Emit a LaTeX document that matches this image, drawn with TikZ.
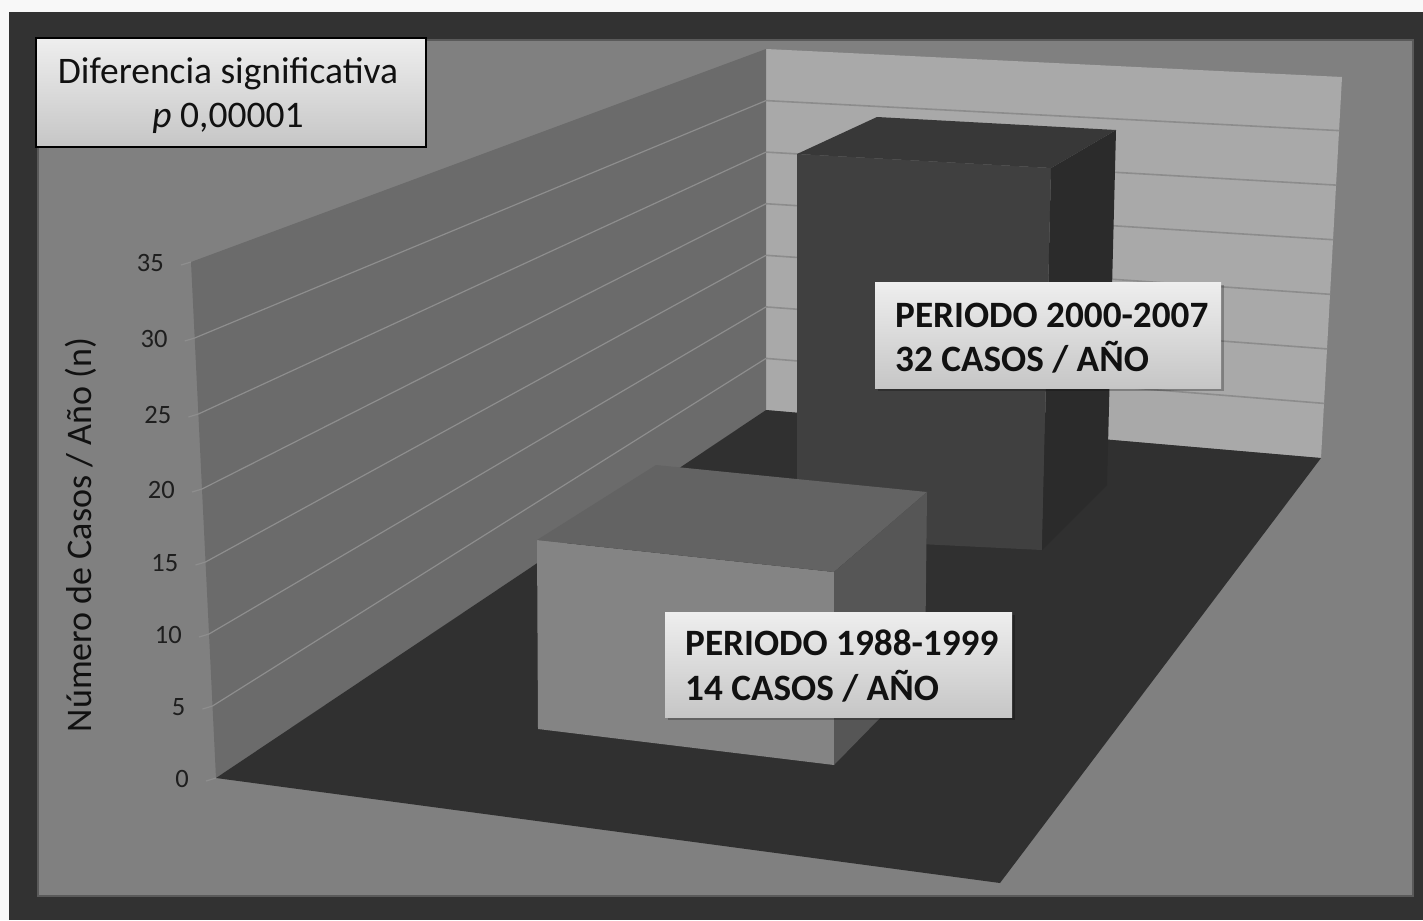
\documentclass[tikz,border=0pt]{standalone}
\usepackage{fontspec}
\setmainfont{Carlito}
\definecolor{bgLight}{HTML}{F8F8F8}
\definecolor{frameDark}{HTML}{323232}
\definecolor{panelGray}{HTML}{808080}
\definecolor{panelEdge}{HTML}{5A5A5A}
\definecolor{backWall}{HTML}{A9A9A9}
\definecolor{backGrid}{HTML}{8C8C8C}
\definecolor{leftWall}{HTML}{6B6B6B}
\definecolor{leftGrid}{HTML}{8E8E8E}
\definecolor{floorDark}{HTML}{303030}
\definecolor{barAfront}{HTML}{848484}
\definecolor{barAtop}{HTML}{636363}
\definecolor{barAside}{HTML}{565656}
\definecolor{barBfront}{HTML}{404040}
\definecolor{barBtop}{HTML}{383838}
\definecolor{barBside}{HTML}{2B2B2B}
\definecolor{boxTop}{HTML}{EEEEEE}
\definecolor{boxBottom}{HTML}{C6C6C6}
\definecolor{txtDark}{HTML}{111111}
\definecolor{tickTxt}{HTML}{1E1E1E}
\tikzset{
  labelbox/.style={top color=boxTop, bottom color=boxBottom},
  boxshadow/.style={fill=black, opacity=0.25},
  boxtext/.style={inner sep=0pt, anchor=base west, text=txtDark, font=\fontsize{37.2bp}{44bp}\selectfont\bfseries},
  titletext/.style={inner sep=0pt, anchor=base, text=txtDark, font=\fontsize{37.5bp}{44bp}\selectfont},
  ticklabel/.style={inner sep=0pt, anchor=east, text=tickTxt, font=\fontsize{26.5bp}{30bp}\selectfont},
  leftgridline/.style={draw=leftGrid, line width=1.2bp},
  backgridline/.style={draw=backGrid, line width=1.6bp},
}
\begin{document}
\begin{tikzpicture}[x=1bp,y=-1bp]
\useasboundingbox (0,0) rectangle (1423,920);
\fill[bgLight] (0,0) rectangle (1423,920);
\fill[frameDark] (9,12) rectangle (1423,920);
\filldraw[fill=panelGray, draw=panelEdge, line width=1.2bp] (38,40) rectangle (1413,896);
% back wall
\fill[backWall] (766,49) -- (1342,77) -- (1321,458) -- (766,410) -- cycle;
\foreach \yl/\xr/\yr in {358.4/1324/403.4, 306.9/1327/348.9, 255.3/1330/294.3, 203.7/1333/239.7, 152.1/1336/185.1, 100.6/1339/130.6}
  \draw[backgridline] (766,\yl) -- (\xr,\yr);
% left wall
\fill[leftWall] (191,262) -- (766,49) -- (766,410) -- (216,778) -- cycle;
\foreach \xf/\yf/\yb in {212.5/706/358.4, 209/634/306.9, 205.5/562/255.3, 202/489/203.7, 198.4/414/152.1, 194.7/338/100.6}
  \draw[leftgridline] (\xf,\yf) -- (766,\yb);
% tick stubs
\foreach \xf/\yf in {216/778, 212.5/706, 209/634, 205.5/562, 202/489, 198.4/414, 194.7/338, 191/262}
  \draw[leftgridline] (\xf-10,\yf+3) -- (\xf,\yf);
% tick labels
\foreach \xf/\yf/\v [count=\k] in {216/778/0, 212.5/706/5, 209/634/10, 205.5/562/15, 202/489/20, 198.4/414/25, 194.7/338/30, 191/262/35}
  \node[ticklabel] (tick\k) at (\xf-27,\yf+1) {\v};
% floor
\fill[floorDark] (216,778) -- (766,410) -- (1321,458) -- (1000,883) -- cycle;
% axis title
\node[inner sep=0pt, rotate=90, text=txtDark, font=\fontsize{36bp}{40bp}\selectfont] (ytitle) at (81,535) {Número de Casos / Año (n)};
% bar 2 (2000-2007)
\fill[barBfront] (797,154) -- (1051,168) -- (1042,550) -- (797,538) -- cycle;
\fill[barBtop] (797,154) -- (877,117) -- (1116,130) -- (1051,168) -- cycle;
\fill[barBside] (1051,168) -- (1116,130) -- (1107,485) -- (1042,550) -- cycle;
% bar 1 (1988-1999)
\fill[barAfront] (537,540) -- (834,572) -- (834,765) -- (538,729) -- cycle;
\fill[barAtop] (537,540) -- (656,465) -- (927,492) -- (834,572) -- cycle;
\fill[barAside] (834,572) -- (927,492) -- (925,672) -- (834,765) -- cycle;
% significance box
\shade[labelbox] (36,38) rectangle (426,147);
\draw[black, line width=2.5bp] (36,38) rectangle (426,147);
\node[titletext] (sig1) at (228,83) {Diferencia significativa};
\node[titletext] (sig2) at (228,127) {\textit{p} 0,00001};
% label 2000-2007
\fill[boxshadow] (878,285) rectangle (1224,391);
\shade[labelbox] (875,282) rectangle (1221,388);
\node[boxtext] (lab2a) at (895,327) {PERIODO 2000-2007};
\node[boxtext] (lab2b) at (895,371) {32 CASOS / AÑO};
% label 1988-1999
\fill[boxshadow] (668,615) rectangle (1015,720);
\shade[labelbox] (665,612) rectangle (1012,717);
\node[boxtext] (lab1a) at (685,655) {PERIODO 1988-1999};
\node[boxtext] (lab1b) at (685,700) {14 CASOS / AÑO};
\end{tikzpicture}
\end{document}
